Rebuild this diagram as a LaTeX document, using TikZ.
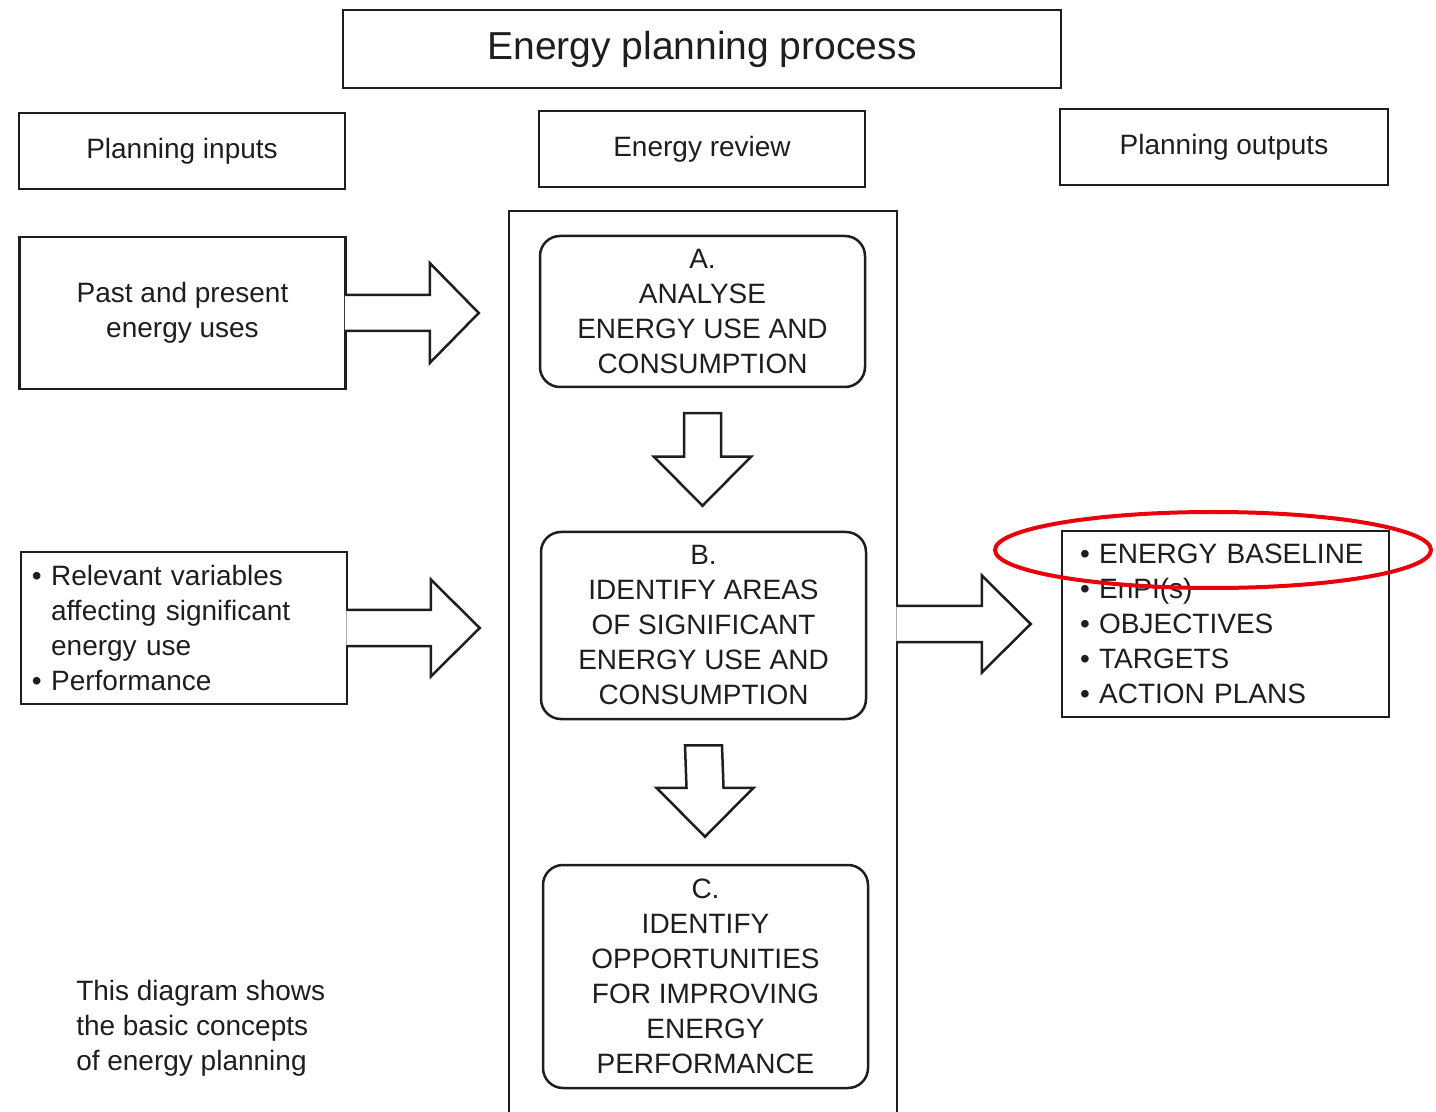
\documentclass[tikz,border=0pt]{standalone}
\usepackage{fontspec}
\setmainfont{Liberation Sans}
\usepackage{xcolor}
\usepackage{tikz}
\usetikzlibrary{calc,shapes.geometric}

\definecolor{ink}{HTML}{1E1E1E}
\definecolor{markred}{HTML}{E8000B}

\begin{document}
\begin{tikzpicture}[
    x=0.5pt, y=-0.5pt,
    color=ink, line width=1.25pt,
    every node/.style={font=\fontsize{14}{17.5}\selectfont, inner sep=0pt},
    box/.style={draw, minimum width=163pt, minimum height=38pt},
    stepbox/.style={draw, rounded corners=10pt, minimum width=162.5pt, align=center},
    blockarrow/.style={draw, fill=white}
]
\useasboundingbox (0,0) rectangle (1436,1112);

% headings
\node[box, minimum width=359pt, minimum height=39pt, font=\fontsize{19.5}{24}\selectfont] (title) at (702,49) {Energy planning process};
\node[box] (inputs) at (182,151) {Planning inputs};
\node[box] (review) at (702,149) {Energy review};
\node[box, minimum width=164pt] (outputs) at (1224,147) {Planning outputs};

% inputs
\node[box, minimum height=76pt, align=center] (past) at (182.5,313) {Past and present\\energy uses};
\node[box, minimum height=76pt, align=left, text width=152pt, inner xsep=5.5pt] (vars) at (184,628)
    {• Relevant variables\\\hphantom{• }affecting significant\\\hphantom{• }energy use\\• Performance};

% energy review
\node[draw, minimum width=194pt, minimum height=459.5pt] (stage) at (703,670.5) {};
\node[stepbox, minimum height=75.5pt] (A) at (702.5,311.5) {A.\\ANALYSE\\ENERGY USE AND\\CONSUMPTION};
\node[stepbox, minimum height=93.5pt] (B) at (703.5,625.5) {B.\\IDENTIFY AREAS\\OF SIGNIFICANT\\ENERGY USE AND\\CONSUMPTION};
\node[stepbox, minimum height=111.5pt] (C) at (705.5,976.5) {C.\\IDENTIFY\\OPPORTUNITIES\\FOR IMPROVING\\ENERGY\\PERFORMANCE};

% outputs
\node[draw, align=left, text width=145.5pt, inner xsep=9pt, minimum height=93pt] (outlist) at (1225.5,624)
    {• ENERGY BASELINE\\• EnPI(s)\\• OBJECTIVES\\• TARGETS\\• ACTION PLANS};
\node[align=left, anchor=west] (note) at (75,1028.5) {This diagram shows\\the basic concepts\\of energy planning};

% arrows
\coordinate (tipP) at ($(stage.west |- past.east)+(-29,0)$);
\coordinate (tipV) at ($(stage.west |- vars.east)+(-28,0)$);
\coordinate (tipO) at ($(outlist.west)+(-30,0)$);
\coordinate (tipAB) at ($(B.north)+(-1,-25)$);
\coordinate (tipBC) at ($(C.north)+(-0.5,-27)$);

\draw[blockarrow] ($(past.east)+(-2,-18)$) -- ($(tipP)+(-49,-18)$) -- ($(tipP)+(-49,-50)$) -- (tipP)
    -- ($(tipP)+(-49,50)$) -- ($(tipP)+(-49,18)$) -- ($(past.east)+(-2,18)$);
\draw[blockarrow] ($(vars.east)+(-2,-18)$) -- ($(tipV)+(-49,-18)$) -- ($(tipV)+(-49,-48.5)$) -- (tipV)
    -- ($(tipV)+(-49,48.5)$) -- ($(tipV)+(-49,18)$) -- ($(vars.east)+(-2,18)$);
\draw[blockarrow] ($(stage.east |- tipO)+(-2,-18)$) -- ($(tipO)+(-49,-18)$) -- ($(tipO)+(-49,-48.5)$) -- (tipO)
    -- ($(tipO)+(-49,48.5)$) -- ($(tipO)+(-49,18)$) -- ($(stage.east |- tipO)+(-2,18)$);

\draw[blockarrow] ($(A.south)+(-18.5,25)$) -- ($(tipAB)+(-18.5,-49)$) -- ($(tipAB)+(-48.5,-49)$) -- (tipAB)
    -- ($(tipAB)+(48.5,-49)$) -- ($(tipAB)+(18.5,-49)$) -- ($(A.south)+(18.5,25)$) -- cycle;
\draw[blockarrow] ($(B.south)+(-18.5,25)$) -- ($(tipBC)+(-18.5,-49)$) -- ($(tipBC)+(-48.5,-49)$) -- (tipBC)
    -- ($(tipBC)+(48.5,-49)$) -- ($(tipBC)+(18.5,-49)$) -- ($(B.south)+(18.5,25)$) -- cycle;

% highlight
\node[ellipse, draw=markred, line width=2pt, minimum width=218pt, minimum height=38pt] (highlight) at (1213,550) {};
\end{tikzpicture}
\end{document}
